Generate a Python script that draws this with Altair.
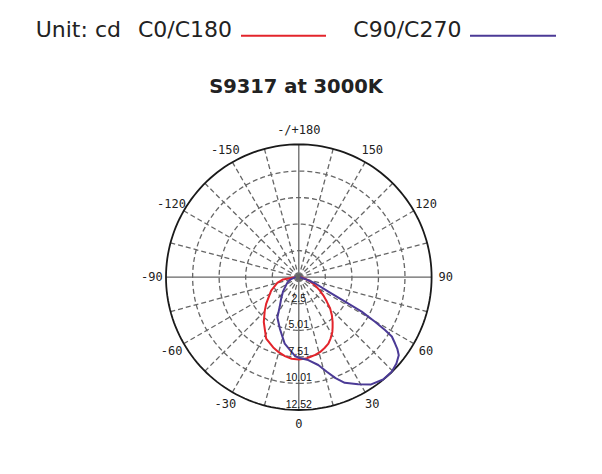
import altair as alt
import pandas as pd
import numpy as np

# ---------------- data ----------------
# angle in degrees: 0 = straight down, positive = to the right; intensity in cd
red_angles = [-90, -82, -75, -64, -51, -45, -38, -32, -28, -20, -15, -10, -5, 0, 5, 8, 12, 16,
              20, 24, 27.5, 31.5, 34, 37, 41, 45, 49, 53.5, 58, 63.5, 70, 76, 90]
red_values = [0.4, 1.5, 2.1, 2.9, 3.95, 4.55, 5.36, 6.0, 6.55, 7.05, 7.32, 7.55, 7.72, 7.75, 7.7, 7.6,
              7.48, 7.33, 7.1, 6.86, 6.5, 6.05, 5.7, 5.3, 4.75, 4.18, 3.5, 2.87, 2.3, 1.71, 1.1, 0.6, 0.2]

purple_angles = [-90, -75, -66, -57, -48, -39, -33, -28, -20, -12, -3, 0, 6.5, 12.5, 16.5, 20, 23.5,
                 29, 34, 39.5, 44.5, 48.5, 52, 54, 55.5, 57.5, 58.5, 59.7, 61.3, 62.2, 64, 69.5, 74, 90]
purple_values = [0.3, 0.8, 1.15, 1.45, 2.0, 2.65, 3.3, 4.3, 5.2, 6.4, 7.4, 7.6, 7.86, 8.48, 9.29, 10.13,
                 10.86, 11.55, 12.19, 12.5, 12.5, 12.29, 11.96, 11.48, 11.0, 10.4, 9.53, 8.32, 6.76,
                 4.93, 3.1, 1.63, 0.6, 0.1]

series_names = ["C0/C180", "C90/C270"]
series_colors = ["#e3242b", "#4b3a96"]

ring_values = [2.5, 5.01, 7.51, 10.01]
outer_value = 12.52
ring_labels = ["2.5", "5.01", "7.51", "10.01", "12.52"]
ring_label_values = [2.5, 5.01, 7.51, 10.01, 12.52]

spoke_angles = list(range(0, 360, 15))
axis_angles = [0, 90, 180, 270]
angle_label_values = [0, 30, 60, 90, 120, 150, 180, -150, -120, -90, -60, -30]
angle_label_texts = ["0", "30", "60", "90", "120", "150", "-/+180", "-150", "-120", "-90", "-60", "-30"]
label_radius = 13.85

title_text = "S9317 at 3000K"
unit_text = "Unit: cd"

# ---------------- geometry of the view ----------------
W, H = 586, 458
cx, cy = 290.8, 269.2          # centre of the polar plot inside the view (px)
k = 132.8 / outer_value         # px per cd

xs = alt.Scale(domain=[-cx / k, (W - cx) / k], nice=False, zero=False)
ys = alt.Scale(domain=[-(H - cy) / k, cy / k], nice=False, zero=False)

def polar(chart):
    return chart.transform_calculate(
        px="datum.r * sin(datum.a * PI / 180)",
        py="-datum.r * cos(datum.a * PI / 180)",
    )

X = alt.X("px:Q", scale=xs, axis=None)
Y = alt.Y("py:Q", scale=ys, axis=None)

# ---------------- tables ----------------
steps = np.arange(0, 361, 2)
rings = pd.DataFrame([{"ring": v, "i": i, "a": float(a), "r": v}
                      for v in ring_values for i, a in enumerate(steps)])
outer = pd.DataFrame([{"i": i, "a": float(a), "r": outer_value} for i, a in enumerate(steps)])
spokes = pd.DataFrame([{"s": a, "i": j, "a": a, "r": rr}
                       for a in spoke_angles if a not in axis_angles
                       for j, rr in enumerate([0.0, outer_value])])
axes = pd.DataFrame([{"s": a, "i": j, "a": a, "r": rr}
                     for a in axis_angles for j, rr in enumerate([0.0, outer_value])])
curves = pd.DataFrame(
    [{"series": series_names[0], "i": i, "a": a, "r": v} for i, (a, v) in enumerate(zip(red_angles, red_values))]
    + [{"series": series_names[1], "i": i, "a": a, "r": v} for i, (a, v) in enumerate(zip(purple_angles, purple_values))]
)
ring_lab = pd.DataFrame({"t": ring_labels, "a": 0.0, "r": ring_label_values})
ang_lab = pd.DataFrame({"t": angle_label_texts, "a": angle_label_values, "r": label_radius})

grid_dash = [5, 3]

ring_layer = polar(alt.Chart(rings)).mark_line(
    color="#666666", strokeWidth=1.3, strokeDash=grid_dash
).encode(x=X, y=Y, detail="ring:N", order="i:Q")

spoke_layer = polar(alt.Chart(spokes)).mark_line(
    color="#666666", strokeWidth=1.3, strokeDash=grid_dash
).encode(x=X, y=Y, detail="s:N", order="i:Q")

axis_layer = polar(alt.Chart(axes)).mark_line(
    color="#666666", strokeWidth=1.3
).encode(x=X, y=Y, detail="s:N", order="i:Q")

outer_layer = polar(alt.Chart(outer)).mark_line(
    color="#1a1a1a", strokeWidth=1.8
).encode(x=X, y=Y, order="i:Q")

curve_layer = polar(alt.Chart(curves)).mark_line(strokeWidth=2, strokeJoin="round").encode(
    x=X, y=Y, detail="series:N", order="i:Q",
    color=alt.Color("series:N", scale=alt.Scale(domain=series_names, range=series_colors), legend=None),
)

ring_text = polar(alt.Chart(ring_lab)).mark_text(
    font="Liberation Sans", fontSize=10.5, color="#111111", baseline="middle", align="center", dy=-5
).encode(x=X, y=Y, text="t:N")

angle_text = polar(alt.Chart(ang_lab)).mark_text(
    font="DejaVu Sans Mono", fontSize=12, color="#222222", baseline="middle", align="center"
).encode(x=X, y=Y, text="t:N")

# ---------------- header ----------------
head_font = "DejaVu Sans"
unit_layer = alt.Chart(pd.DataFrame({"t": [unit_text]})).mark_text(
    font=head_font, fontSize=22, color="#222222", align="left", baseline="alphabetic"
).encode(x=alt.value(27.7), y=alt.value(29.3), text="t:N")

s0_layer = alt.Chart(pd.DataFrame({"t": [series_names[0]]})).mark_text(
    font=head_font, fontSize=22, color="#222222", align="right", baseline="alphabetic"
).encode(x=alt.value(224), y=alt.value(29.3), text="t:N")

s1_layer = alt.Chart(pd.DataFrame({"t": [series_names[1]]})).mark_text(
    font=head_font, fontSize=22, color="#222222", align="left", baseline="alphabetic"
).encode(x=alt.value(345.3), y=alt.value(29.3), text="t:N")

leg0 = alt.Chart(pd.DataFrame({"t": [series_names[0]]})).mark_rule(
    color=series_colors[0], strokeWidth=2
).encode(x=alt.value(233), x2=alt.value(318), y=alt.value(27.7))

leg1 = alt.Chart(pd.DataFrame({"t": [series_names[1]]})).mark_rule(
    color=series_colors[1], strokeWidth=2
).encode(x=alt.value(462), x2=alt.value(548), y=alt.value(27.7))

title_layer = alt.Chart(pd.DataFrame({"t": [title_text]})).mark_text(
    font=head_font, fontSize=19.5, fontWeight="bold", color="#222222", align="center", baseline="alphabetic"
).encode(x=alt.value(288), y=alt.value(85), text="t:N")

chart = alt.layer(
    ring_layer, spoke_layer, axis_layer, outer_layer, curve_layer,
    ring_text, angle_text,
    unit_layer, s0_layer, s1_layer, leg0, leg1, title_layer,
).properties(
    width=W, height=H, padding=0, autosize=alt.AutoSizeParams(type="none"), background="white"
).configure_view(stroke=None)

chart.save("out.html", embed_options={"renderer": "svg", "actions": False})
